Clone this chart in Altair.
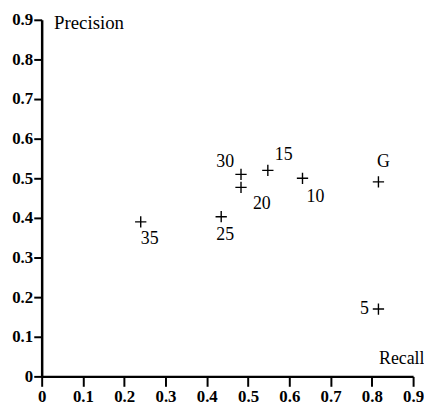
import altair as alt
import pandas as pd

labels = ["35", "25", "30", "20", "15", "10", "G", "5"]
recall = [0.24, 0.435, 0.483, 0.483, 0.548, 0.632, 0.816, 0.816]
precision = [0.39, 0.403, 0.51, 0.477, 0.52, 0.50, 0.491, 0.17]
ticks = [0, 0.1, 0.2, 0.3, 0.4, 0.5, 0.6, 0.7, 0.8, 0.9]

df = pd.DataFrame({"label": labels, "recall": recall, "precision": precision})

# label offsets (style, in pixels)
offsets = {"35": (9, 17), "25": (4, 19), "30": (-16, -12), "20": (21, 17),
           "15": (16, -15), "10": (13, 19), "G": (5, -20), "5": (-14, 0)}

serif = "Liberation Serif"
lab_expr = "datum.value == 0 ? '0' : format(datum.value, '.1f')"

xs = alt.X("recall:Q", scale=alt.Scale(domain=[0, 0.9], nice=False, zero=False),
           axis=alt.Axis(values=ticks, title="Recall", titleX=386, titleY=-13,
                         titleAlign="right", labelExpr=lab_expr))
ys = alt.Y("precision:Q", scale=alt.Scale(domain=[0, 0.9], nice=False, zero=False),
           axis=alt.Axis(values=ticks, title="Precision", titleX=12, titleY=9,
                         titleAngle=0, titleAlign="left", labelExpr=lab_expr))

base = alt.Chart(df)
points = base.mark_point(shape="M-1,0H1M0,-1V1", filled=False, stroke="black",
                         strokeWidth=1.4, size=130, opacity=1).encode(x=xs, y=ys)

layers = [points]
for lab, (dx, dy) in offsets.items():
    layers.append(
        base.transform_filter(alt.datum.label == lab)
        .mark_text(font=serif, fontSize=18, color="black", dx=dx, dy=dy,
                   align="center", baseline="middle")
        .encode(x=xs, y=ys, text="label:N")
    )

chart = (
    alt.layer(*layers)
    .properties(
        width=375, height=360,
        autosize=alt.AutoSizeParams(type="none"),
        padding={"left": 34, "top": 10, "right": 11, "bottom": 30},
        background="white",
    )
    .configure_view(stroke=None)
    .configure_axis(
        labelFont=serif, labelFontWeight="bold", labelFontSize=17,
        labelColor="black", labelOverlap=False, labelFlush=False,
        titleFont=serif, titleFontWeight="normal", titleFontSize=18,
        titleColor="black", titleBaseline="alphabetic",
        tickColor="black", tickWidth=2, domainColor="black", domainWidth=2.5,
        grid=False,
    )
    .configure_axisX(tickSize=10, labelPadding=2)
    .configure_axisY(tickSize=8, labelPadding=1, titleFontSize=19)
)

chart.save("out.html", embed_options={"renderer": "svg", "actions": False})
